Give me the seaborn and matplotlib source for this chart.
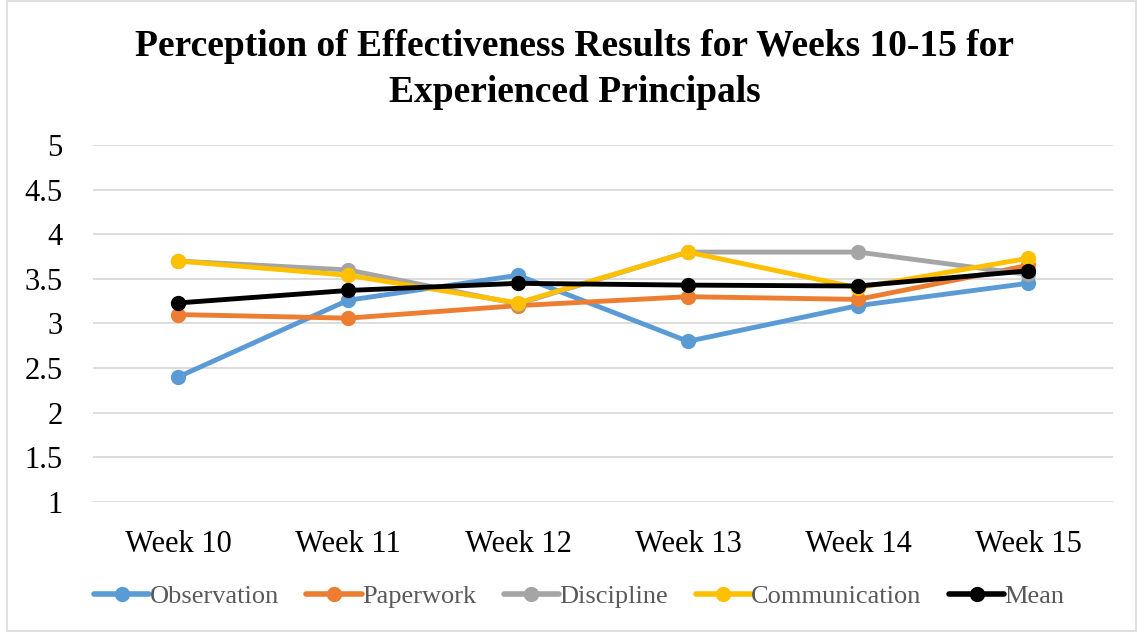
import matplotlib
matplotlib.use("Agg")
import matplotlib.pyplot as plt
from matplotlib.patches import Rectangle
import seaborn as sns
import pandas as pd

weeks = ["Week 10", "Week 11", "Week 12", "Week 13", "Week 14", "Week 15"]
observation = [2.40, 3.26, 3.54, 2.80, 3.20, 3.45]
paperwork = [3.10, 3.06, 3.20, 3.30, 3.27, 3.65]
discipline = [3.70, 3.60, 3.22, 3.80, 3.80, 3.55]
communication = [3.70, 3.54, 3.23, 3.80, 3.40, 3.73]
mean = [3.23, 3.37, 3.45, 3.43, 3.42, 3.59]

series_names = ["Observation", "Paperwork", "Discipline", "Communication", "Mean"]
series_values = [observation, paperwork, discipline, communication, mean]
colors = ["#5B9BD5", "#ED7D31", "#A5A5A5", "#FFC000", "#000000"]

rows = []
for name, vals in zip(series_names, series_values):
    for w, v in zip(weeks, vals):
        rows.append({"Week": w, "Score": v, "Series": name})
df = pd.DataFrame(rows)

sns.set_theme(style="white")
plt.rcParams["font.family"] = ["Liberation Serif", "DejaVu Serif"]

fig = plt.figure(figsize=(11.38, 6.32), dpi=100)
ax = fig.add_axes([0.0817, 0.2057, 0.8963, 0.5649])

sns.lineplot(data=df, x="Week", y="Score", hue="Series", hue_order=series_names,
             palette=colors, marker="o", markersize=11, markeredgewidth=0,
             linewidth=3.5, sort=False, ax=ax, zorder=3)

ax.set_xlim(-0.5, len(weeks) - 0.5)
ax.set_ylim(1, 5)
ax.set_yticks([1, 1.5, 2, 2.5, 3, 3.5, 4, 4.5, 5])
ax.set_yticklabels(["1", "1.5", "2", "2.5", "3", "3.5", "4", "4.5", "5"])
ax.yaxis.grid(True, color="#D9D9D9", linewidth=1.3, zorder=0)
ax.xaxis.grid(False)
for s in ax.spines.values():
    s.set_visible(False)
ax.tick_params(axis="y", length=0, pad=22, labelsize=22, labelcolor="#000000")
ax.tick_params(axis="x", length=0, pad=20, labelsize=22, labelcolor="#000000")
ax.set_xlabel("")
ax.set_ylabel("")

leg = ax.legend(loc="center", bbox_to_anchor=(0.509, 1 - 596 / 632),
                bbox_transform=fig.transFigure, ncol=5, frameon=False,
                fontsize=19, handlelength=2.1, handletextpad=0.0,
                columnspacing=1.05, labelcolor="#595959")
for h in leg.legend_handles:
    h.set_linewidth(4)
    h.set_markersize(11)

fig.text(0.505, 1 - 47 / 632, "Perception of Effectiveness Results for Weeks 10-15 for",
         ha="center", va="center", fontsize=27, fontweight="bold", color="#000000")
fig.text(0.505, 1 - 92 / 632, "Experienced Principals",
         ha="center", va="center", fontsize=27, fontweight="bold", color="#000000")

fig.patches.append(Rectangle((0.006, 0.002), 0.992, 0.996, transform=fig.transFigure,
                             fill=False, edgecolor="#D9D9D9", linewidth=1.2))

fig.savefig("out.png", dpi=100)
